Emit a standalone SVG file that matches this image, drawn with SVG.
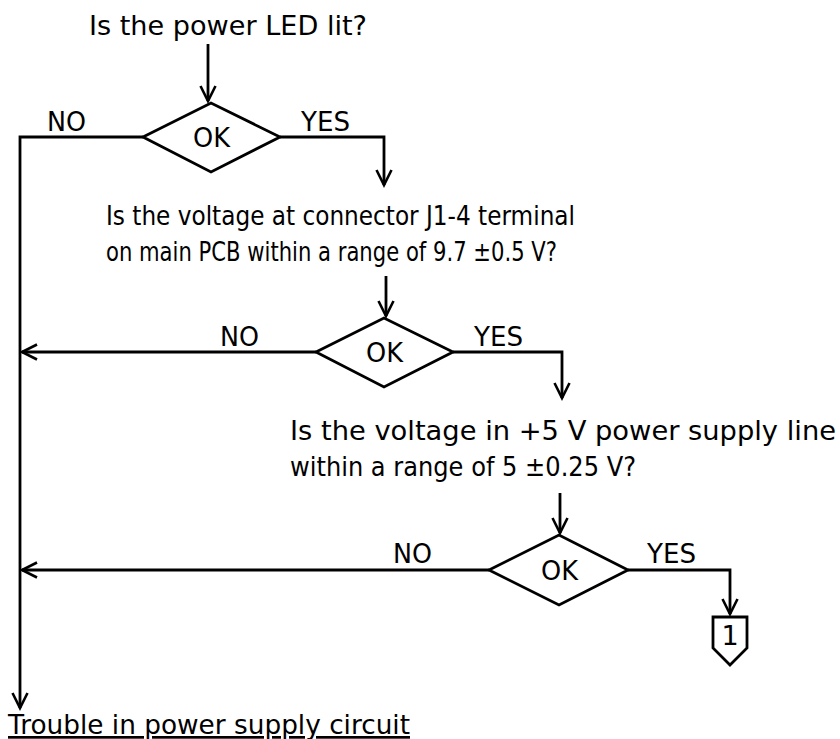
<svg xmlns="http://www.w3.org/2000/svg" width="840" height="739" viewBox="0 0 840 739">
<style>
  text { font-family: "DejaVu Sans", "Liberation Sans", sans-serif; font-size: 27px; fill: #000; }
  .ln { fill: none; stroke: #000; stroke-width: 2.8; }
  .dm { fill: #fff; stroke: #000; stroke-width: 2.8; }
  .mid { text-anchor: middle; }
</style>
<defs>
  <marker id="ah" markerUnits="userSpaceOnUse" viewBox="-20 -10 24 20" markerWidth="24" markerHeight="20" refX="0" refY="0" orient="auto">
    <path d="M-15,-7.5 L0,0 L-15,7.5" fill="none" stroke="#000" stroke-width="2.6"/>
  </marker>
</defs>
<rect width="840" height="739" fill="#fff"/>
<g id="connectors">
  <path class="ln" d="M208,44 V101" marker-end="url(#ah)"/>
  <path class="ln" d="M143,137 H20 V708" marker-end="url(#ah)"/>
  <path class="ln" d="M280,137 H384 V185" marker-end="url(#ah)"/>
  <path class="ln" d="M386,276 V316" marker-end="url(#ah)"/>
  <path class="ln" d="M316,352 H22" marker-end="url(#ah)"/>
  <path class="ln" d="M453,352 H562 V398" marker-end="url(#ah)"/>
  <path class="ln" d="M560,493 V533" marker-end="url(#ah)"/>
  <path class="ln" d="M489,570 H22" marker-end="url(#ah)"/>
  <path class="ln" d="M628,570 H730 V614" marker-end="url(#ah)"/>
</g>
<g id="q1">
  <text x="89" y="35" textLength="278" lengthAdjust="spacingAndGlyphs">Is the power LED lit?</text>
</g>
<g id="d1">
  <polygon class="dm" points="143,137 211,103 280,137 211,172"/>
  <text x="193" y="147" textLength="37" lengthAdjust="spacingAndGlyphs">OK</text>
  <text x="47" y="131" textLength="39" lengthAdjust="spacingAndGlyphs">NO</text>
  <text x="301" y="131" textLength="49" lengthAdjust="spacingAndGlyphs">YES</text>
</g>
<g id="q2">
  <text x="106" y="225" textLength="469" lengthAdjust="spacingAndGlyphs">Is the voltage at connector J1-4 terminal</text>
  <text x="106" y="261" textLength="451" lengthAdjust="spacingAndGlyphs">on main PCB within a range of 9.7 ±0.5 V?</text>
</g>
<g id="d2">
  <polygon class="dm" points="316,352 384,318 453,352 384,387"/>
  <text x="366" y="362" textLength="37" lengthAdjust="spacingAndGlyphs">OK</text>
  <text x="220" y="346" textLength="39" lengthAdjust="spacingAndGlyphs">NO</text>
  <text x="474" y="346" textLength="49" lengthAdjust="spacingAndGlyphs">YES</text>
</g>
<g id="q3">
  <text x="290" y="440" textLength="546" lengthAdjust="spacingAndGlyphs">Is the voltage in +5 V power supply line</text>
  <text x="290" y="476" textLength="346" lengthAdjust="spacingAndGlyphs">within a range of 5 ±0.25 V?</text>
</g>
<g id="d3">
  <polygon class="dm" points="489,570 559,535 628,570 559,605"/>
  <text x="541" y="580" textLength="37" lengthAdjust="spacingAndGlyphs">OK</text>
  <text x="393" y="563" textLength="39" lengthAdjust="spacingAndGlyphs">NO</text>
  <text x="647" y="563" textLength="49" lengthAdjust="spacingAndGlyphs">YES</text>
</g>
<g id="c1">
  <polygon class="dm" points="713,617 747,617 747,648 730,665 713,648"/>
  <text x="730" y="645" class="mid" font-size="26">1</text>
</g>
<g id="trouble">
  <text x="8" y="734" textLength="402" lengthAdjust="spacingAndGlyphs" text-decoration="underline">Trouble in power supply circuit</text>
</g>
</svg>
